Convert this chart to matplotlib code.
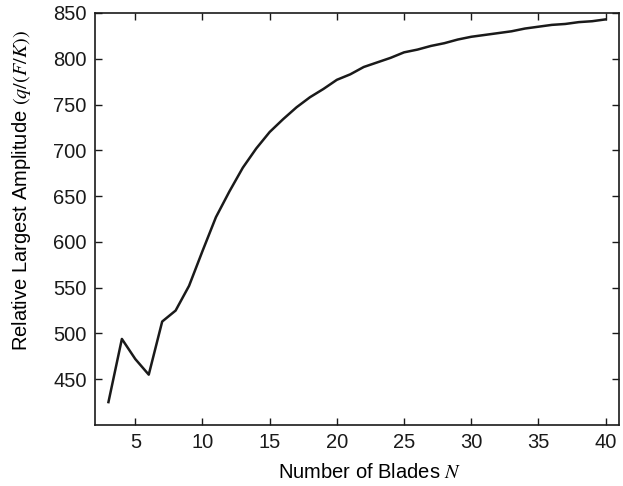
import matplotlib
matplotlib.use('Agg')
import matplotlib.pyplot as plt

# Number of blades and relative largest amplitude
n_blades = [3, 4, 5, 6, 7, 8, 9, 10, 11, 12, 13, 14, 15, 16, 17, 18, 19, 20,
            21, 22, 23, 24, 25, 26, 27, 28, 29, 30, 31, 32, 33, 34, 35, 36,
            37, 38, 39, 40]
amplitude = [425, 494, 472, 455, 513, 525, 552, 590, 627, 655, 681, 702, 720,
             734, 747, 758, 767, 777, 783, 791, 796, 801, 807, 810, 814, 817,
             821, 824, 826, 828, 830, 833, 835, 837, 838, 840, 841, 843]

plt.rcParams['font.family'] = ['Liberation Sans', 'DejaVu Sans']
plt.rcParams['mathtext.fontset'] = 'stix'

fig = plt.figure(figsize=(6.23, 4.86), dpi=100)
ax = fig.add_axes([0.1525, 0.1255, 0.8411, 0.8478])
ax.plot(n_blades, amplitude, color='#1a1a1a', lw=1.8)

ax.set_xlim(2, 41)
ax.set_ylim(400, 850)
ax.set_xticks([5, 10, 15, 20, 25, 30, 35, 40])
ax.set_yticks([450, 500, 550, 600, 650, 700, 750, 800, 850])
ax.tick_params(direction='in', top=True, right=True, labelsize=14.5,
               length=5, width=1, colors='#1a1a1a', pad=6)
for s in ax.spines.values():
    s.set_linewidth(1.2)
    s.set_color('#1a1a1a')

ax.set_xlabel('Number of Blades $N$', fontsize=14.5)
ax.xaxis.set_label_coords(0.525, -0.092)
ax.set_ylabel('Relative Largest Amplitude $(q/(F/K))$', fontsize=14.5)
ax.yaxis.set_label_coords(-0.118, 0.568)

fig.savefig('out.png', dpi=100)
